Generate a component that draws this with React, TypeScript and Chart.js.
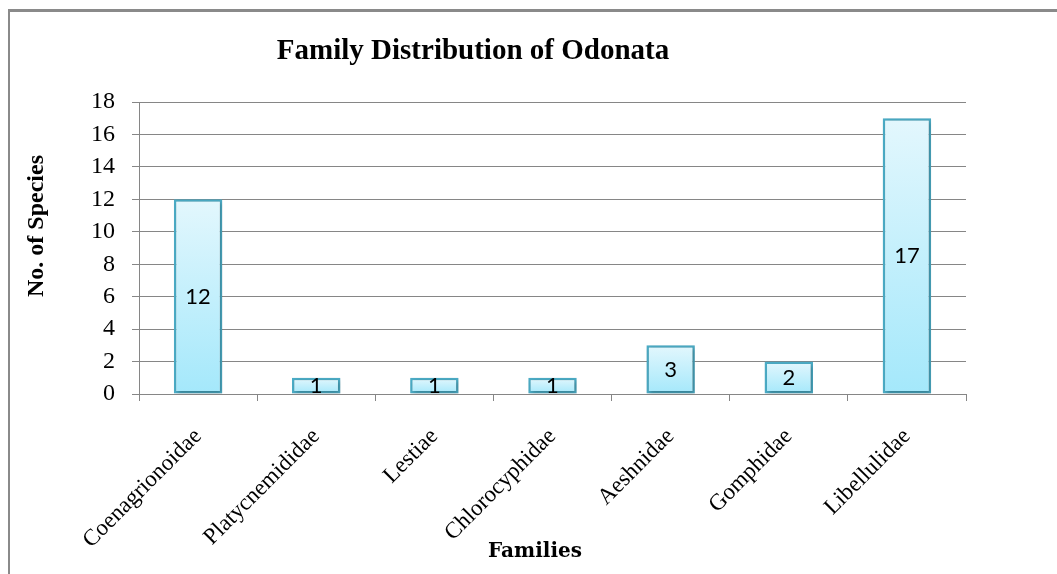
import React, { useEffect, useRef } from "react";
import { Chart, registerables } from "chart.js";

Chart.register(...registerables);

const families: string[] = [
  "Coenagrionoidae",
  "Platycnemididae",
  "Lestiae",
  "Chlorocyphidae",
  "Aeshnidae",
  "Gomphidae",
  "Libellulidae",
];
const speciesCounts: number[] = [12, 1, 1, 1, 3, 2, 17];
const yTicks: number[] = [0, 2, 4, 6, 8, 10, 12, 14, 16, 18];

const chartTitle = "Family Distribution of Odonata";
const yTitle = "No. of Species";
const xTitle = "Families";

const textPlugin = {
  id: "customText",
  beforeDatasetsDraw(chart: any) {
    const ctx = chart.ctx;
    ctx.save();
    ctx.shadowColor = "rgba(0,0,0,0.28)";
    ctx.shadowBlur = 4;
    ctx.shadowOffsetX = 1.5;
    ctx.shadowOffsetY = 1.5;
  },
  afterDatasetsDraw(chart: any) {
    const ctx = chart.ctx;
    ctx.restore();
    const meta = chart.getDatasetMeta(0);
    ctx.save();
    ctx.fillStyle = "#000";
    ctx.font = "22px Lato, 'Open Sans', sans-serif";
    ctx.textAlign = "center";
    ctx.textBaseline = "middle";
    meta.data.forEach((bar: any, i: number) => {
      const cy = (bar.y + bar.base) / 2;
      ctx.fillText(String(speciesCounts[i]), bar.x, cy);
    });
    ctx.restore();
  },
  afterDraw(chart: any) {
    const ctx = chart.ctx;
    ctx.save();
    ctx.fillStyle = "#000";
    ctx.textAlign = "center";
    ctx.textBaseline = "alphabetic";
    ctx.font = "bold 29px 'Liberation Serif', serif";
    ctx.fillText(chartTitle, 473, 59);
    ctx.font = "bold 20px 'DejaVu Serif', serif";
    ctx.fillText(xTitle, 535, 557);
    ctx.translate(43, 226);
    ctx.rotate(-Math.PI / 2);
    ctx.font = "bold 24px 'Liberation Serif', serif";
    ctx.fillText(yTitle, 0, 0);
    ctx.restore();
  },
};

export default function App() {
  const canvasRef = useRef<HTMLCanvasElement | null>(null);

  useEffect(() => {
    const canvas = canvasRef.current;
    if (!canvas) return;
    const chart = new Chart(canvas, {
      type: "bar",
      data: {
        labels: families,
        datasets: [
          {
            data: speciesCounts,
            backgroundColor: (c: any) => {
              const ch = c.chart;
              const ys = ch.scales?.y;
              if (!ys || c.dataIndex === undefined) return "#C4EFFB";
              const v = speciesCounts[c.dataIndex];
              const top = ys.getPixelForValue(v);
              const bot = ys.getPixelForValue(0);
              if (!isFinite(top) || !isFinite(bot) || top === bot) return "#C4EFFB";
              const g = ch.ctx.createLinearGradient(0, top, 0, bot);
              g.addColorStop(0, "#E3F7FD");
              g.addColorStop(1, "#A4E8FB");
              return g;
            },
            borderColor: "#4BACC6",
            borderWidth: 2.5,
            borderSkipped: false,
            categoryPercentage: 1,
            barPercentage: 0.41,
          },
        ],
      },
      options: {
        animation: false,
        responsive: true,
        maintainAspectRatio: false,
        layout: { padding: { left: 0, right: 91, top: 102, bottom: 0 } },
        plugins: {
          legend: { display: false },
          title: { display: false },
          tooltip: { enabled: false },
        },
        scales: {
          x: {
            offset: true,
            grid: {
              display: true,
              drawOnChartArea: false,
              drawTicks: true,
              tickLength: 7,
              offset: true,
              color: "#868686",
              lineWidth: 1,
            },
            border: { display: true, color: "#868686", width: 1 },
            ticks: {
              color: "#000",
              font: { family: "'Liberation Serif', serif", size: 23 },
              minRotation: 45,
              maxRotation: 45,
              padding: 22,
              autoSkip: false,
            },
            afterFit: (scale: any) => {
              scale.height = 180;
            },
          },
          y: {
            min: 0,
            max: 18,
            afterBuildTicks: (scale: any) => {
              scale.ticks = yTicks.map((v) => ({ value: v }));
            },
            grid: {
              color: "#868686",
              lineWidth: 1,
              tickLength: 7,
              drawTicks: true,
            },
            border: { display: true, color: "#868686", width: 1 },
            ticks: {
              color: "#000",
              font: { family: "'Liberation Serif', serif", size: 24 },
              padding: 17,
            },
            afterFit: (scale: any) => {
              scale.width = 139;
            },
          },
        },
      },
      plugins: [textPlugin],
    } as any);
    return () => chart.destroy();
  }, []);

  return (
    <div
      style={{
        position: "fixed",
        left: 0,
        top: 0,
        width: 1057,
        height: 574,
        overflow: "hidden",
        background: "#fff",
      }}
    >
      <div
        style={{
          position: "absolute",
          left: 8,
          top: 9,
          width: 1200,
          height: 700,
          borderTop: "3px solid #8a8a8a",
          borderLeft: "2px solid #8a8a8a",
          boxSizing: "border-box",
        }}
      />
      <div style={{ position: "absolute", left: 0, top: 0, width: 1057, height: 574 }}>
        <canvas ref={canvasRef} />
      </div>
    </div>
  );
}
